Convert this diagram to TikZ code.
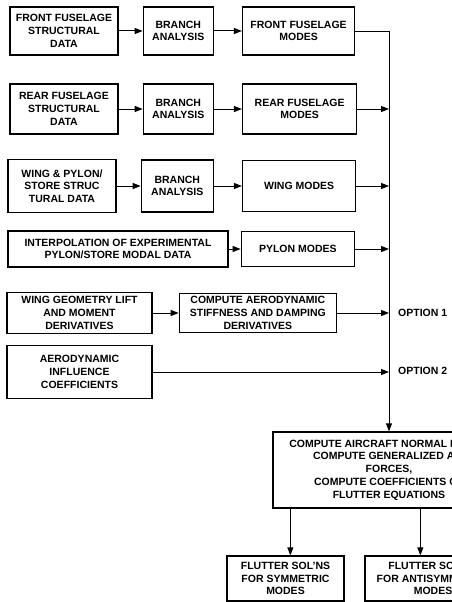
\documentclass[tikz,border=0pt]{standalone}
\usepackage{fontspec}
\setmainfont{Liberation Sans}
\usepackage{tikz}
\usetikzlibrary{arrows.meta,positioning}
\tikzset{
  >={Triangle[length=8pt,width=6pt]},
  box/.style={draw, line width=1.3pt, align=center, inner sep=0pt,
    font=\bfseries\fontsize{10.5}{12.7}\selectfont},
  lbl/.style={inner sep=0pt, font=\bfseries\fontsize{10.5}{12.7}\selectfont},
  flow/.style={->, line width=1pt},
}

\begin{document}
\begin{tikzpicture}[x=1pt, y=-1pt]
  \useasboundingbox (0,0) rectangle (452,602);
  \clip (0,0) rectangle (452,602);

  % structural branches
  \node[box, minimum width=108pt, minimum height=48pt] (fstruct) at (64,31) {FRONT FUSELAGE\\STRUCTURAL\\DATA};
  \node[box, minimum width=70pt, minimum height=48pt, right=24pt of fstruct] (fbranch) {BRANCH\\ANALYSIS};
  \node[box, minimum width=112pt, minimum height=48pt, right=28pt of fbranch] (fmodes) {FRONT FUSELAGE\\MODES};

  \node[box, minimum width=108pt, minimum height=50pt] (rstruct) at (64,109) {REAR FUSELAGE\\STRUCTURAL\\DATA};
  \node[box, minimum width=70pt, minimum height=50pt, right=24pt of rstruct] (rbranch) {BRANCH\\ANALYSIS};
  \node[box, minimum width=114pt, minimum height=50pt, right=28pt of rbranch] (rmodes) {REAR FUSELAGE\\MODES};

  \node[box, minimum width=108pt, minimum height=53pt] (wstruct) at (62,186) {WING \& PYLON/\\STORE STRUC\\TURAL DATA};
  \node[box, minimum width=72pt, minimum height=52pt, right=24pt of wstruct] (wbranch) {BRANCH\\ANALYSIS};
  \node[box, minimum width=113pt, minimum height=51pt, right=28pt of wbranch] (wmodes) {WING MODES};

  \node[box, minimum width=220pt, minimum height=36pt] (interp) at (118,249) {INTERPOLATION OF EXPERIMENTAL\\PYLON/STORE MODAL DATA};
  \node[box, minimum width=113pt, minimum height=35pt, right=12pt of interp] (pmodes) {PYLON MODES};

  % aerodynamics
  \node[box, minimum width=145pt, minimum height=41pt] (wgeom) at (79.5,313) {WING GEOMETRY LIFT\\AND MOMENT\\DERIVATIVES};
  \node[box, minimum width=157pt, minimum height=39pt, right=26pt of wgeom] (aerostiff) {COMPUTE AERODYNAMIC\\STIFFNESS AND DAMPING\\DERIVATIVES};
  \node[box, minimum width=145pt, minimum height=53pt] (aic) at (79.5,372) {AERODYNAMIC\\INFLUENCE\\COEFFICIENTS};

  \coordinate (bus) at (389,32);
  \node[lbl, anchor=west] (opt1) at (398,313) {OPTION 1};
  \node[lbl, anchor=west] (opt2) at (398,371) {OPTION 2};

  % flutter
  \node[box, minimum width=232pt, minimum height=76pt] (compute) at (389,470)
    {COMPUTE AIRCRAFT NORMAL MODES\\COMPUTE GENERALIZED AIR\\FORCES,\\COMPUTE COEFFICIENTS OF\\FLUTTER EQUATIONS};
  \node[box, minimum width=117pt, minimum height=45pt] (symm) at (285.5,578.5) {FLUTTER SOL'NS\\FOR SYMMETRIC\\MODES};
  \node[box, minimum width=136pt, minimum height=45pt] (antisymm) at (433,578.5) {FLUTTER SOL'NS\\FOR ANTISYMMETRIC\\MODES};

  \draw[flow] (fstruct) -- (fbranch);
  \draw[flow] (fbranch) -- (fmodes);
  \draw[flow] (rstruct) -- (rbranch);
  \draw[flow] (rbranch) -- (rmodes);
  \draw[flow] (wstruct) -- (wbranch);
  \draw[flow] (wbranch) -- (wmodes);
  \draw[flow] (interp) -- (pmodes);
  \draw[flow] (wgeom) -- (aerostiff);

  \draw[flow] (fmodes.east |- bus) -- (bus) -- (bus |- compute.north);
  \draw[flow] (rmodes.east) -- (rmodes.east -| bus);
  \draw[flow] (wmodes.east) -- (wmodes.east -| bus);
  \draw[flow] (pmodes.east) -- (pmodes.east -| bus);
  \draw[flow] (aerostiff.east) -- (aerostiff.east -| bus);
  \draw[flow] (aic.east) -- (aic.east -| bus);

  \draw[flow] ([xshift=18pt]compute.south west) -- ([xshift=18pt]compute.south west |- symm.north);
  \draw[flow] ([xshift=148pt]compute.south west) -- ([xshift=148pt]compute.south west |- antisymm.north);
\end{tikzpicture}
\end{document}
